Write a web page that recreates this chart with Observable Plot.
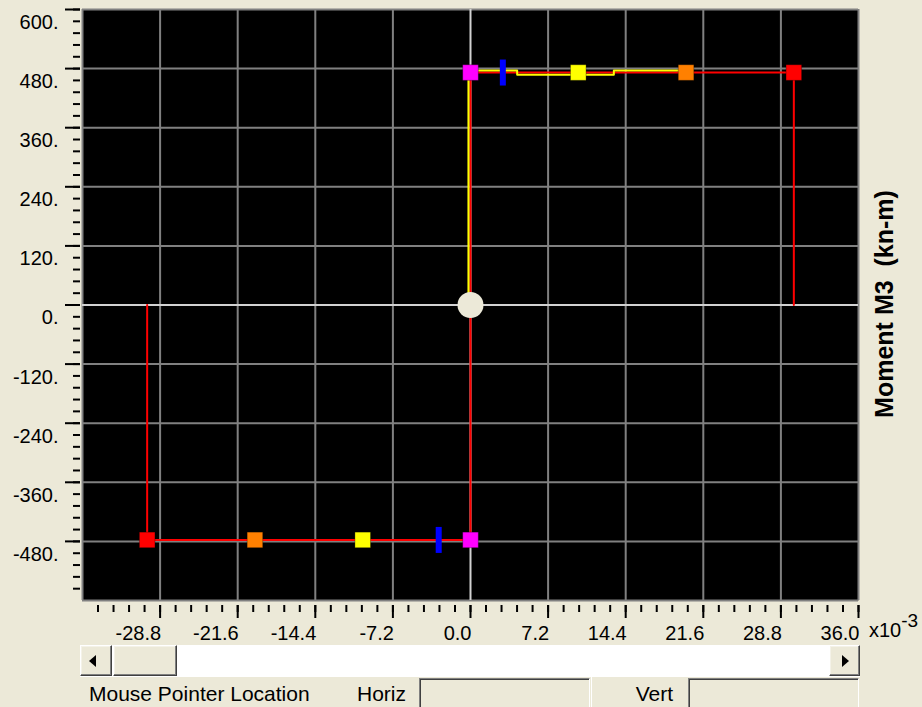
<!DOCTYPE html>
<html>
<head>
<meta charset="utf-8">
<script src="https://cdn.jsdelivr.net/npm/d3@7"></script>
<script src="https://cdn.jsdelivr.net/npm/@observablehq/plot@0.6"></script>
<style>
html, body { margin: 0; padding: 0; background: #ece9d8; width: 922px; height: 707px; overflow: hidden; font-family: 'Liberation Sans', Arial, sans-serif; }
#chart { position: absolute; left: 0; top: 0; }
.raised { position: absolute; box-sizing: border-box; background: #ece9d8; border: 1px solid; border-color: #ffffff #404040 #404040 #ffffff; box-shadow: inset -1px -1px #808080, inset 1px 1px #f4f2e8; }
.sunken { position: absolute; box-sizing: border-box; background: #ece9d8; border: 1px solid; border-color: #808080 #ffffff #ffffff #808080; box-shadow: inset 1px 1px #404040; }
.track { position: absolute; background: #ffffff; }
.lbl { position: absolute; font-size: 21px; line-height: 21px; color: #000; white-space: nowrap; }
.tri-l { position: absolute; width: 0; height: 0; border-top: 6px solid transparent; border-bottom: 6px solid transparent; border-right: 7px solid #000; }
.tri-r { position: absolute; width: 0; height: 0; border-top: 6px solid transparent; border-bottom: 6px solid transparent; border-left: 7px solid #000; }
</style>
</head>
<body>
<div id="chart"></div>

<!-- scrollbar -->
<div class="track" style="left:80px; top:645px; width:780px; height:31px;"></div>
<div class="raised" style="left:80px; top:645px; width:32px; height:31px;"></div>
<div class="tri-l" style="left:89px; top:655px;"></div>
<div class="raised" style="left:113px; top:645px; width:64px; height:31px;"></div>
<div class="raised" style="left:829px; top:645px; width:31px; height:31px;"></div>
<div class="tri-r" style="left:842px; top:655px;"></div>

<!-- status bar -->
<div style="position:absolute; left:80px; top:676px; width:780px; height:1px; background:#ffffff;"></div>
<div class="lbl" style="left:89px; top:683px;">Mouse Pointer Location</div>
<div class="lbl" style="right:516px; top:683px;">Horiz</div>
<div class="sunken" style="left:419px; top:678px; width:171px; height:32px;"></div>
<div style="position:absolute; left:591px; top:677px; width:1px; height:30px; background:#ffffff;"></div>
<div class="lbl" style="right:249px; top:683px;">Vert</div>
<div class="sunken" style="left:688px; top:678px; width:171px; height:32px;"></div>

<script>
// ---- data (rotation x10^-3, moment kN-m) ----
// backbone curve (red)
const backboneX = [-30, -30, -20, -10, 0, 0, 10, 20, 30, 30];
const backboneM = [0, -477, -477, -477, -477, 472, 472, 472, 472, 0];

// current/overlay curve (yellow)
const currentX = [-0.19, -0.19, 4.33, 4.33, 13.3, 13.3, 20];
const currentM = [0, 476, 476, 467.5, 467.5, 476, 476];

// hinge points B, C, D, E (positive and negative)
const pointX = [0, 10, 20, 30, 0, -10, -20, -30];
const pointM = [472, 472, 472, 472, -477, -477, -477, -477];
const pointKind = ["B", "C", "D", "E", "B", "C", "D", "E"];

// acceptance markers (blue bars)
const markX = [3.0, -2.95];
const markM = [472, -477];

// origin
const originX = [0];
const originM = [0];

// ticks and grid
const xMajor = [-28.8, -21.6, -14.4, -7.2, 0, 7.2, 14.4, 21.6, 28.8, 36];
const yMajor = [-480, -360, -240, -120, 0, 120, 240, 360, 480, 600];
const xGrid = [-36, -28.8, -21.6, -14.4, -7.2, 7.2, 14.4, 21.6, 28.8, 36];
const yGrid = [-600, -480, -360, -240, -120, 120, 240, 360, 480, 600];
const xMinor = d3.range(-24, 26).map(i => +(i * 1.44).toFixed(2));
const yMinor = d3.range(-24, 26).map(i => i * 24);

// ---- build tables ----
const backbone = backboneX.map((x, i) => ({x, y: backboneM[i]}));
const current = currentX.map((x, i) => ({x, y: currentM[i]}));
const points = pointX.map((x, i) => ({x, y: pointM[i], kind: pointKind[i]}));
const marks = markX.map((x, i) => ({x, y: markM[i]}));
const origin = originX.map((x, i) => ({x, y: originM[i]}));

const barSymbol = {
  draw(ctx) {
    ctx.moveTo(-3, -13); ctx.lineTo(3, -13); ctx.lineTo(3, 13); ctx.lineTo(-3, 13); ctx.closePath();
  }
};

const font = "'Liberation Sans', Arial, sans-serif";

const svg = Plot.plot({
  width: 922,
  height: 645,
  marginLeft: 82,
  marginRight: 64,
  marginTop: 9,
  marginBottom: 45,
  style: {background: "#ece9d8", fontFamily: font, fontSize: "20px", color: "#000", overflow: "visible"},
  x: {domain: [-36, 36], label: null},
  y: {domain: [-600, 600], label: null},
  color: {domain: ["B", "C", "D", "E"], range: ["#ff00ff", "#ffff00", "#ff8000", "#ff0000"]},
  marks: [
    Plot.frame({fill: "#000000", stroke: "none"}),
    Plot.ruleX(xGrid, {stroke: "#808080", strokeWidth: 2}),
    Plot.ruleY(yGrid, {stroke: "#808080", strokeWidth: 2}),
    Plot.ruleX([0], {stroke: "#d2d2d2", strokeWidth: 2}),
    Plot.ruleY([0], {stroke: "#d2d2d2", strokeWidth: 2}),

    // y axis: major ticks, minor ticks, labels (shifted below the tick)
    Plot.axisY(yMajor, {anchor: "left", tickSize: 15, strokeWidth: 2, stroke: "#000", fill: "none", dx: -2, label: null}),
    Plot.axisY(yMinor, {anchor: "left", tickSize: 7, strokeWidth: 2, stroke: "#000", fill: "none", dx: -2, label: null}),
    Plot.axisY(yMajor, {anchor: "left", tickSize: 0, tickPadding: 24, dy: 13, fill: "#000", fontSize: 20,
      tickFormat: d => d + ".", label: null}),

    // x axis
    Plot.axisX(xMajor, {anchor: "bottom", tickSize: 13, strokeWidth: 2, stroke: "#000", fill: "none", dy: 5, label: null}),
    Plot.axisX(xMinor, {anchor: "bottom", tickSize: 7, strokeWidth: 2, stroke: "#000", fill: "none", dy: 5, label: null}),
    Plot.axisX(xMajor, {anchor: "bottom", tickSize: 0, tickPadding: 25, textAnchor: "end", dx: 1, fill: "#000", fontSize: 20,
      tickFormat: d => d.toFixed(1), label: null}),

    // curves
    Plot.line(backbone, {x: "x", y: "y", stroke: "#ff0000", strokeWidth: 2}),
    Plot.line(current, {x: "x", y: "y", stroke: "#ffff00", strokeWidth: 2}),

    // markers
    Plot.dot(marks, {x: "x", y: "y", symbol: barSymbol, r: 5, fill: "#0000ff", stroke: "none"}),
    Plot.dot(points, {x: "x", y: "y", symbol: "square", r: 8.8, fill: "kind", stroke: "#000", strokeOpacity: 0.3, strokeWidth: 1}),
    Plot.dot(origin, {x: "x", y: "y", r: 13, fill: "#ece9d8", stroke: "none"})
  ]
});

document.getElementById("chart").append(svg);

const s = d3.select(svg);
// exponent note on x axis
const ex = s.append("text")
  .attr("x", 869).attr("y", 637)
  .attr("text-anchor", "start")
  .attr("font-family", font).attr("font-size", 20).attr("fill", "#000");
ex.append("tspan").text("x10");
ex.append("tspan").attr("dy", -10).attr("font-size", 19).text("-3");

// right-side y label
s.append("text")
  .attr("transform", "translate(893,304) rotate(-90)")
  .attr("text-anchor", "middle")
  .attr("font-family", font).attr("font-size", 25).attr("font-weight", "bold").attr("fill", "#000")
  .text("Moment M3\u00a0\u00a0(kn-m)");
</script>
</body>
</html>
